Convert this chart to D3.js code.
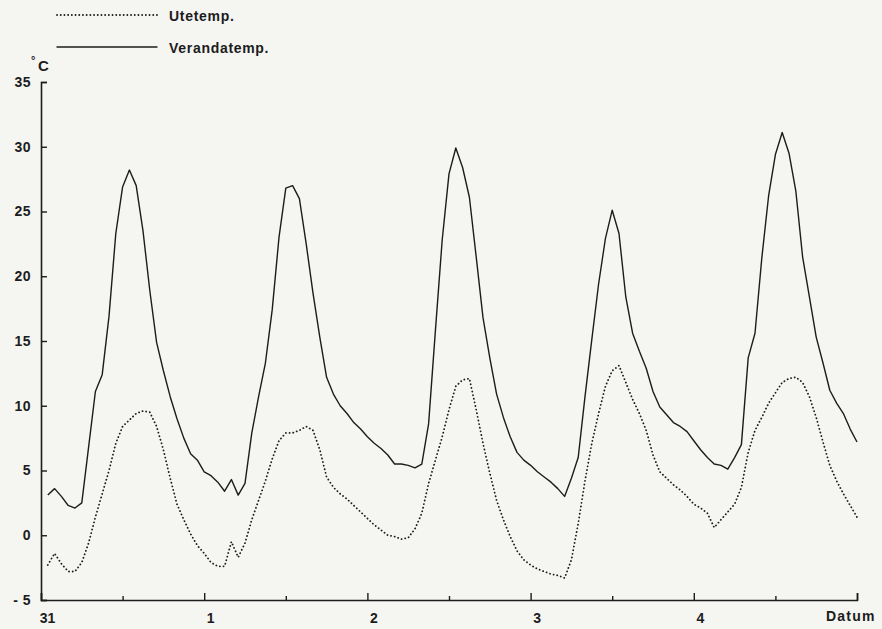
<!DOCTYPE html>
<html>
<head>
<meta charset="utf-8">
<script src="https://cdn.jsdelivr.net/npm/d3@7/dist/d3.min.js"></script>
<style>
  html, body { margin: 0; padding: 0; background: #f5f5f2; }
  svg { display: block; }
  text { font-family: "Liberation Sans", Arial, sans-serif; font-weight: bold; fill: #1c1c1c; }
</style>
</head>
<body>
<svg id="chart" width="882" height="629"></svg>
<script>
// Hourly readings, hour 1 .. 120 after midnight of the 31st
const hours = d3.range(1, 121);

// Veranda temperature (°C)
const verandaTemp = [
  3.1, 3.6, 3.0, 2.3, 2.1, 2.5, 6.8, 11.1, 12.4, 16.9, 23.3, 26.9,
  28.2, 27.0, 23.5, 18.9, 14.9, 12.7, 10.7, 9.0, 7.5, 6.3, 5.8, 4.9,
  4.6, 4.1, 3.4, 4.3, 3.1, 4.0, 7.9, 10.7, 13.3, 17.4, 23.0, 26.8,
  27.0, 26.0, 22.5, 18.7, 15.3, 12.2, 10.9, 10.0, 9.4, 8.7, 8.2, 7.6,
  7.1, 6.7, 6.2, 5.5, 5.5, 5.4, 5.2, 5.5, 8.6, 15.8, 22.8, 27.9,
  29.9, 28.4, 26.1, 21.5, 16.8, 13.7, 10.9, 9.1, 7.6, 6.4, 5.8, 5.4,
  4.9, 4.5, 4.1, 3.6, 3.0, 4.4, 6.0, 10.7, 15.1, 19.4, 22.9, 25.1,
  23.3, 18.4, 15.6, 14.2, 12.9, 11.1, 9.9, 9.3, 8.7, 8.4, 8.0, 7.3,
  6.6, 6.0, 5.5, 5.4, 5.1, 6.0, 7.0, 13.7, 15.6, 21.4, 26.2, 29.4,
  31.1, 29.5, 26.6, 21.5, 18.4, 15.3, 13.3, 11.2, 10.2, 9.4, 8.2, 7.2
];

// Outdoor temperature (°C)
const uteTemp = [
  -2.3, -1.4, -2.2, -2.8, -2.8, -2.1, -0.6, 1.4, 3.2, 5.0, 7.1, 8.4,
  8.9, 9.4, 9.6, 9.5, 8.4, 6.6, 4.4, 2.4, 1.2, 0.1, -0.8, -1.4,
  -2.1, -2.4, -2.4, -0.5, -1.7, -0.6, 1.2, 2.7, 4.2, 5.9, 7.3, 7.9,
  7.9, 8.1, 8.4, 8.1, 6.6, 4.5, 3.7, 3.2, 2.8, 2.3, 1.8, 1.3,
  0.8, 0.4, 0.0, -0.1, -0.3, -0.2, 0.5, 1.7, 4.0, 5.8, 7.6, 9.7,
  11.5, 12.0, 12.1, 9.7, 7.1, 4.8, 2.7, 1.2, -0.1, -1.2, -1.9, -2.3,
  -2.6, -2.8, -3.0, -3.1, -3.3, -1.9, 0.9, 4.2, 7.1, 9.4, 11.5, 12.7,
  13.1, 11.8, 10.5, 9.4, 8.1, 6.2, 4.9, 4.4, 3.9, 3.5, 3.0, 2.4,
  2.1, 1.7, 0.6, 1.2, 1.8, 2.4, 3.7, 6.4, 8.1, 9.1, 10.2, 11.0,
  11.8, 12.1, 12.2, 11.8, 10.7, 9.1, 7.2, 5.4, 4.2, 3.2, 2.3, 1.4
];

// Axis ticks
const dayHours = [0, 24, 48, 72, 96, 120];
const dayLabels = ["31", "1", "2", "3", "4", ""];
const halfDayHours = [12, 36, 60, 84, 108];
const yTicks = [-5, 0, 5, 10, 15, 20, 25, 30, 35];

// Legend entries
const seriesNames = ["Utetemp.", "Verandatemp."];
const xTitle = "Datum";
const yUnit = "C";

const svg = d3.select("#chart");
const ink = "#1c1c1c";
const font = "Liberation Sans, Arial, sans-serif";

const x = d3.scaleLinear().domain([0, 120]).range([41, 857]);
const y = d3.scaleLinear().domain([-5, 35]).range([600, 82]);

// Y axis (ticks pointing inward)
const yAxis = svg.append("g")
  .attr("transform", `translate(${x(0)},0)`)
  .call(d3.axisLeft(y).tickValues(yTicks).tickSize(-6).tickPadding(10)
    .tickFormat(d => d < 0 ? "- " + Math.abs(d) : d));
yAxis.select(".domain").attr("stroke", ink).attr("stroke-width", 1.6);
yAxis.selectAll(".tick line").attr("stroke", ink).attr("stroke-width", 1.4);
yAxis.selectAll(".tick text").attr("font-size", 14).attr("fill", ink)
  .attr("letter-spacing", 0.5)
  .attr("font-family", font).attr("font-weight", "bold");

// X axis: day ticks and half-day ticks
const xAxis = svg.append("g")
  .attr("transform", `translate(0,${y(-5)})`)
  .call(d3.axisBottom(x).tickValues(dayHours).tickSize(-7).tickPadding(13)
    .tickFormat((d, i) => dayLabels[i]));
xAxis.select(".domain").attr("stroke", ink).attr("stroke-width", 1.6);
xAxis.selectAll(".tick line").attr("stroke", ink).attr("stroke-width", 1.4);
xAxis.selectAll(".tick text").attr("font-size", 14).attr("fill", ink)
  .attr("dx", 6)
  .attr("font-family", font).attr("font-weight", "bold");

const xMinor = svg.append("g")
  .attr("transform", `translate(0,${y(-5)})`)
  .call(d3.axisBottom(x).tickValues(halfDayHours).tickSize(-4).tickFormat(""));
xMinor.select(".domain").remove();
xMinor.selectAll(".tick line").attr("stroke", ink).attr("stroke-width", 1.4);

// Axis titles
svg.append("text").attr("x", 826).attr("y", 621)
  .attr("font-size", 14).attr("letter-spacing", 1.2).text(xTitle);
svg.append("text").attr("x", 31).attr("y", 64)
  .attr("font-size", 11).text("°");
svg.append("text").attr("x", 38).attr("y", 71)
  .attr("font-size", 15).text(yUnit);

// Lines
const line = d3.line().x((d, i) => x(hours[i])).y(d => y(d));

svg.append("path").datum(uteTemp)
  .attr("d", line)
  .attr("fill", "none").attr("stroke", ink)
  .attr("stroke-width", 1.8)
  .attr("stroke-linecap", "round")
  .attr("stroke-dasharray", "0.1 3.6");

svg.append("path").datum(verandaTemp)
  .attr("d", line)
  .attr("fill", "none").attr("stroke", ink)
  .attr("stroke-width", 1.4)
  .attr("stroke-linejoin", "round");

// Legend
const legend = svg.append("g");
const legendRows = [
  { name: seriesNames[0], y: 15, dash: "0.1 3.6", w: 1.8 },
  { name: seriesNames[1], y: 47, dash: null, w: 1.4 }
];
legendRows.forEach(r => {
  legend.append("line")
    .attr("x1", 57).attr("x2", 157).attr("y1", r.y).attr("y2", r.y)
    .attr("stroke", ink).attr("stroke-width", r.w)
    .attr("stroke-linecap", "round")
    .attr("stroke-dasharray", r.dash);
  legend.append("text").attr("x", 169).attr("y", r.y + 6)
    .attr("font-size", 14).attr("letter-spacing", 0.7).text(r.name);
});
</script>
</body>
</html>
